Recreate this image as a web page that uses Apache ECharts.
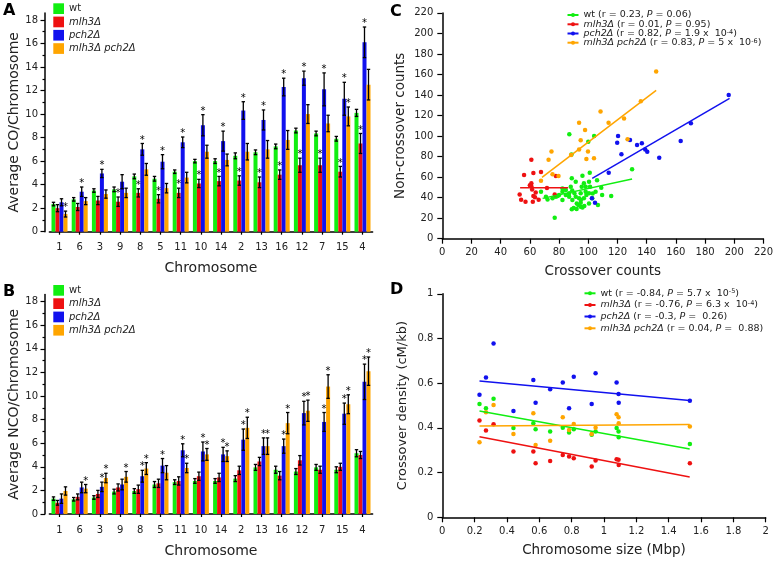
<!DOCTYPE html>
<html><head><meta charset="utf-8">
<script src="https://cdn.jsdelivr.net/npm/echarts@6/dist/echarts.min.js"></script>
<style>html,body{margin:0;padding:0;background:#fff}#c{width:776px;height:561px}</style>
</head><body><div id="c"></div><script>
// ---------- data ----------
const chromosomes = ['1','6','3','9','8','5','11','10','14','2','13','16','12','7','15','4'];
const chrSizeMbp = [0.230,0.270,0.317,0.440,0.563,0.577,0.667,0.745,0.784,0.813,0.924,0.948,1.078,1.090,1.091,1.531];
const strainNames = ['wt','mlh3Δ','pch2Δ','mlh3Δ pch2Δ'];
const strainColors = ['#11ee11','#ee1111','#1111ee','#ffa500'];
const barTicksMajor = [0,2,4,6,8,10,12,14,16,18];
const barTicksMinor = [1,3,5,7,9,11,13,15,17];

// Panel A: average CO per chromosome
const coWt    = [2.35,2.75,3.5,3.6,4.7,4.5,5.1,6.0,6.0,6.45,6.75,7.25,8.6,8.35,7.9,10.1];
const coMlh3  = [2.0,2.1,2.65,2.55,3.3,2.8,3.3,4.1,4.3,4.35,4.2,4.85,5.65,5.65,5.1,7.5];
const coPch2  = [2.5,3.4,4.95,4.25,7.0,5.95,7.6,9.05,7.7,10.3,9.5,12.3,13.05,12.1,11.3,16.1];
const coDbl   = [1.5,2.6,3.2,3.3,5.3,3.7,4.6,6.8,6.1,6.8,7.0,7.8,10.0,9.2,9.8,12.5];
const coWtErr   = [0.15,0.15,0.15,0.2,0.2,0.2,0.15,0.15,0.2,0.25,0.2,0.2,0.2,0.2,0.2,0.3];
const coMlh3Err = [0.3,0.3,0.35,0.4,0.35,0.35,0.4,0.35,0.4,0.4,0.45,0.4,0.6,0.6,0.45,0.85];
const coPch2Err = [0.3,0.4,0.35,0.6,0.5,0.6,0.45,0.9,0.85,0.75,0.85,0.75,0.6,1.4,1.4,1.3];
const coDblErr  = [0.25,0.3,0.35,0.4,0.5,0.4,0.45,0.55,0.5,0.7,0.75,0.8,0.8,0.7,0.8,1.3];
const coWtSig   = [0,0,0,0,0,0,0,0,0,0,0,0,0,0,0,0];
const coMlh3Sig = [0,0,0,1,1,1,1,1,1,1,1,1,1,1,1,1];
const coPch2Sig = [0,1,1,0,1,1,1,1,1,1,1,1,1,1,1,1];
const coDblSig  = [1,0,0,0,0,0,0,0,0,0,0,0,0,0,1,0];

// Panel B: average NCO per chromosome
const ncoWt   = [1.3,1.25,1.4,1.9,1.95,2.5,2.7,2.8,2.8,3.0,3.95,3.75,3.6,3.95,3.75,5.15];
const ncoMlh3 = [0.95,1.45,1.7,2.25,2.1,2.6,2.8,3.2,3.1,3.7,4.45,3.25,4.55,3.75,4.0,5.0];
const ncoPch2 = [1.3,2.25,2.3,2.5,3.2,4.1,5.4,5.3,5.05,6.3,5.75,5.75,8.55,7.8,8.5,11.2];
const ncoDbl  = [1.95,2.15,3.05,3.15,3.85,3.5,3.9,5.05,4.9,7.3,5.75,7.7,8.75,10.8,9.3,12.1];
const ncoWtErr   = [0.15,0.15,0.15,0.2,0.2,0.25,0.2,0.2,0.2,0.25,0.25,0.3,0.25,0.25,0.25,0.3];
const ncoMlh3Err = [0.2,0.25,0.3,0.3,0.35,0.35,0.35,0.35,0.35,0.35,0.35,0.35,0.4,0.3,0.3,0.3];
const ncoPch2Err = [0.4,0.45,0.4,0.45,0.5,0.6,0.55,0.8,0.6,0.9,0.7,0.6,1.0,0.8,0.9,1.5];
const ncoDblErr  = [0.35,0.35,0.4,0.45,0.5,0.6,0.4,0.5,0.45,0.9,0.7,0.9,0.9,1.0,0.8,1.2];
const ncoWtSig   = [0,0,0,0,0,0,0,0,0,0,0,0,0,0,0,0];
const ncoMlh3Sig = [0,0,0,0,0,0,0,0,0,0,0,0,0,0,0,0];
const ncoPch2Sig = [0,0,1,0,1,1,1,1,1,1,1,1,1,1,1,1];
const ncoDblSig  = [0,1,1,1,1,0,1,1,1,1,1,1,1,1,1,1];

// Panel C: crossover vs non-crossover counts per meiosis [CO, NCO]
const cWt = [[87,101.7],[104,100],[100,94.5],[88.5,82],[130,67.6],[101,64.3],[88.7,58.8],[96,61.4],[106,57],[77,20.5],
  [67.6,45.8],[88.7,28.6],[93.2,32.8],[94.8,31.2],[96,30.5],[97.3,31.8],[92.1,34.4],[106.6,32.8],[115.7,41.6],[108.9,49.7],
  [105,45.8],[100.5,44.2],[102.7,39.3],[100.5,55.5],[97,54],[98.2,50.7],[95.5,50.7],[91.4,55.5],[86.9,44.2],[84.6,47.4],
  [82.3,45.8],[80,42.5],[77.8,40.9],[75.5,39.3],[72.1,38.3],[71,40.9],[82.3,37.7],[86.9,40.9],[89.1,37.7],[91.4,40.9],
  [94.8,44.2],[98.2,45.8],[101.2,50.7],[88,50.7],[84.6,42.5],[90.5,44.2],[93.7,39.3],[97,39.3],[98.7,42.5],[109.5,42.5],
  [100.5,34.4],[82.3,49],[79,41.6],[94.8,35.1],[90,30],[92,29],[95,38],[103,44],[89,47]];
const cMlh3 = [[53,43],[54,38],[56,62],[57,36],[61,54],[61,51],[61,77],[61.5,48],[62,36],[62.4,64],[62.4,41.6],
  [63.5,40.3],[64,45],[66,38],[67.6,65],[71.7,49.4],[77.8,61],[77,43],[60,52]];
const cPch2 = [[196.2,140],[170.3,112.4],[163.3,95.2],[148.6,78.9],[140.4,84.8],[139,87],[136.7,92.9],[133.4,91.3],
  [128.6,96.1],[122.7,82.2],[120.4,100],[119.8,93.5],[114,64.3],[102.5,39.3],[104.6,35.1]];
const cDbl = [[146.5,163],[136,134],[108.4,124],[113.9,113],[124.5,117],[93.7,113],[97.8,106],[94.8,96],[74.8,85],
  [72.8,77],[88.2,81.5],[99.8,85],[98.7,77.6],[103.9,78.3],[67.6,56.5],[75.5,62.7],[79.6,61],[126.9,96.8],[93.7,87]];
const cFitWt   = [[68.7,39.3],[130,58.1]];
const cFitMlh3 = [[53.3,49.7],[86.2,49.7]];
const cFitPch2 = [[102.7,58.8],[196.8,136.7]];
const cFitDbl  = [[68.3,59.8],[146.5,144.5]];
const cLegendText = ['wt (r = 0.23, {i|P} = 0.06)', '{i|mlh3Δ} (r = 0.01, {i|P} = 0.95)',
  '{i|pch2Δ} (r = 0.82, {i|P} = 1.9 x  10{s|-4})', '{i|mlh3Δ pch2Δ} (r = 0.83, {i|P} = 5 x  10{s|-6})'];

// Panel D: crossover density vs chromosome size
const dWt   = [0.507,0.488,0.53,0.399,0.421,0.394,0.384,0.401,0.379,0.394,0.369,0.384,0.399,0.384,0.358,0.328];
const dMlh3 = [0.433,0.388,0.416,0.294,0.294,0.242,0.252,0.279,0.272,0.264,0.227,0.254,0.26,0.257,0.234,0.242];
const dPch2 = [0.548,0.626,0.778,0.476,0.614,0.513,0.573,0.603,0.488,0.629,0.507,0.644,0.603,0.552,0.513,0.522];
const dDbl  = [0.336,0.47,0.503,0.373,0.466,0.324,0.343,0.448,0.391,0.418,0.373,0.401,0.461,0.448,0.421,0.406];
const dFitWt   = [[0.23,0.476],[1.53,0.306]];
const dFitMlh3 = [[0.23,0.36],[1.53,0.18]];
const dFitPch2 = [[0.23,0.61],[1.53,0.523]];
const dFitDbl  = [[0.23,0.408],[1.53,0.415]];
const dLegendText = ['wt (r = -0.84, {i|P} = 5.7 x  10{s|-5})', '{i|mlh3Δ} (r = -0.76, {i|P} = 6.3 x  10{s|-4})',
  '{i|pch2Δ} (r = -0.3, {i|P} =  0.26)', '{i|mlh3Δ pch2Δ} (r = 0.04, {i|P} =  0.88)'];

// ---------- chart ----------
const FONT = 'DejaVu Sans';
const TXT = '#222';
const BAR_W = 4;
const chart = echarts.init(document.getElementById('c'), null, {renderer:'canvas'});

const axisLineStyle = {color:'#000', width:1.5};
const tickLineStyle = {color:'#000', width:1.2};

function barYAxes(g, name) {
  return [{
    gridIndex:g, type:'value', min:0, max:18.6, offset:4.4, position:'left',
    axisLine:{show:true, lineStyle:axisLineStyle},
    axisTick:{show:true, length:4.5, lineStyle:tickLineStyle, customValues:barTicksMajor},
    axisLabel:{fontSize:10, color:TXT, margin:7, customValues:barTicksMajor},
    splitLine:{show:false},
    name:name, nameLocation:'middle', nameGap:24, nameTextStyle:{fontSize:14, color:TXT}
  },{
    gridIndex:g, type:'value', min:0, max:18.6, offset:4.4, position:'left',
    axisLine:{show:false}, axisLabel:{show:false}, splitLine:{show:false},
    axisTick:{show:true, length:2.5, lineStyle:tickLineStyle, customValues:barTicksMinor}
  }];
}
function barXAxis(g) {
  return {gridIndex:g, type:'category', data:chromosomes, offset:3,
    axisLine:{show:true, lineStyle:axisLineStyle},
    axisTick:{show:true, alignWithLabel:true, length:3, lineStyle:tickLineStyle},
    axisLabel:{fontSize:10, color:TXT, margin:8},
    name:'Chromosome', nameLocation:'middle', nameGap:27, nameTextStyle:{fontSize:14, color:TXT}};
}
function errSeries(xi, yi, k, vals, errs, sigs) {
  const off = (k - 1.5) * BAR_W;
  return {
    type:'custom', xAxisIndex:xi, yAxisIndex:yi, z:5, silent:true,
    encode:{x:0, y:1},
    data: vals.map((v,i)=>[i, v, errs[i], sigs[i]]),
    renderItem(params, api) {
      const i = api.value(0), v = api.value(1), e = api.value(2), s = api.value(3);
      const x = api.coord([i, v])[0] + off;
      const yt = api.coord([i, v + e])[1], yb = api.coord([i, v - e])[1];
      const st = {stroke:'#000', lineWidth:1.3};
      const ch = [
        {type:'line', shape:{x1:x, y1:yt, x2:x, y2:yb}, style:st},
        {type:'line', shape:{x1:x-1.7, y1:yt, x2:x+1.7, y2:yt}, style:st},
        {type:'line', shape:{x1:x-1.7, y1:yb, x2:x+1.7, y2:yb}, style:st}
      ];
      if (s) ch.push({type:'text', style:{text:'*', x:x, y:yt + 1.5, align:'center', verticalAlign:'bottom',
        fontSize:10, fontFamily:FONT, fill:'#000'}});
      return {type:'group', children:ch};
    }
  };
}
function barSeries(xi, yi, k, vals) {
  return {type:'bar', name:strainNames[k], xAxisIndex:xi, yAxisIndex:yi, data:vals,
    barWidth:BAR_W, barGap:'0%', itemStyle:{color:strainColors[k]}, silent:true};
}
function valAxisCommon() {
  return {axisLine:{show:true, lineStyle:axisLineStyle},
    axisTick:{show:true, length:5, lineStyle:tickLineStyle},
    axisLabel:{fontSize:10, color:TXT, margin:9},
    splitLine:{show:false}};
}

const coSets = [[coWt,coWtErr,coWtSig],[coMlh3,coMlh3Err,coMlh3Sig],[coPch2,coPch2Err,coPch2Sig],[coDbl,coDblErr,coDblSig]];
const ncoSets = [[ncoWt,ncoWtErr,ncoWtSig],[ncoMlh3,ncoMlh3Err,ncoMlh3Sig],[ncoPch2,ncoPch2Err,ncoPch2Sig],[ncoDbl,ncoDblErr,ncoDblSig]];
const cScatter = [cWt, cMlh3, cPch2, cDbl];
const cFits = [cFitWt, cFitMlh3, cFitPch2, cFitDbl];
const dScatter = [dWt, dMlh3, dPch2, dDbl];
const dFits = [dFitWt, dFitMlh3, dFitPch2, dFitDbl];

const series = [];
coSets.forEach((s,k)=>series.push(barSeries(0,0,k,s[0])));
ncoSets.forEach((s,k)=>series.push(barSeries(1,2,k,s[0])));
coSets.forEach((s,k)=>series.push(errSeries(0,0,k,s[0],s[1],s[2])));
ncoSets.forEach((s,k)=>series.push(errSeries(1,2,k,s[0],s[1],s[2])));
cScatter.forEach((d,k)=>series.push({type:'scatter', name:'Cpts'+k, xAxisIndex:2, yAxisIndex:4, data:d,
  symbolSize:4.5, itemStyle:{color:strainColors[k], opacity:1}, silent:true}));
cFits.forEach((d,k)=>series.push({type:'line', name:'C'+k, xAxisIndex:2, yAxisIndex:4, data:d,
  symbol:'circle', showSymbol:false, lineStyle:{color:strainColors[k], width:1.5}, itemStyle:{color:strainColors[k]}, silent:true, z:3}));
dScatter.forEach((d,k)=>series.push({type:'scatter', name:'Dpts'+k, xAxisIndex:3, yAxisIndex:5,
  data:chrSizeMbp.map((x,i)=>[x, d[i]]), symbolSize:4.5, itemStyle:{color:strainColors[k], opacity:1}, silent:true}));
dFits.forEach((d,k)=>series.push({type:'line', name:'D'+k, xAxisIndex:3, yAxisIndex:5, data:d,
  symbol:'circle', showSymbol:false, lineStyle:{color:strainColors[k], width:1.5}, itemStyle:{color:strainColors[k]}, silent:true, z:3}));

const richLegend = {
  i:{fontStyle:'italic', fontSize:9.5, fontFamily:FONT, color:TXT},
  s:{fontSize:6.5, fontFamily:FONT, color:TXT, verticalAlign:'top', lineHeight:6}
};
function barLegend(top) {
  return {orient:'vertical', left:53.3, top:top, padding:0, itemGap:2.6, itemWidth:10.7, itemHeight:10.7,
    icon:'rect', selectedMode:false, data:strainNames,
    textStyle:{fontSize:10, color:TXT, fontFamily:FONT, lineHeight:10,
      rich:{i:{fontStyle:'italic', fontSize:10, fontFamily:FONT, color:TXT}}},
    formatter:(n)=> n === 'wt' ? 'wt' : '{i|' + n + '}'};
}
function lineLegend(prefix, left, tops, texts) {
  return tops.map((t,k)=>({orient:'vertical', left:left, top:t, padding:0, itemWidth:11, itemHeight:5,
    selectedMode:false, data:[prefix + k],
    textStyle:{fontSize:9.5, color:TXT, fontFamily:FONT, lineHeight:10, rich:richLegend},
    formatter:()=>texts[k]}));
}

const option = {
  animation:false,
  backgroundColor:'#fff',
  textStyle:{fontFamily:FONT},
  title:[
    {text:'A', left:3, top:3, padding:0, textStyle:{fontSize:16, fontWeight:'bold', color:'#000'}},
    {text:'B', left:3, top:284, padding:0, textStyle:{fontSize:16, fontWeight:'bold', color:'#000'}},
    {text:'C', left:390, top:4, padding:0, textStyle:{fontSize:16, fontWeight:'bold', color:'#000'}},
    {text:'D', left:390, top:282, padding:0, textStyle:{fontSize:16, fontWeight:'bold', color:'#000'}}
  ],
  legend:[barLegend(3.3), barLegend(285)]
    .concat(lineLegend('C', 566.5, [10, 19.3, 28.5, 37.7], cLegendText))
    .concat(lineLegend('D', 583.5, [288.3, 300, 311.5, 323.3], dLegendText)),
  grid:[
    {left:49.4, top:12.9, width:323.2, height:218.8},
    {left:49.4, top:294.5, width:323.2, height:219.5},
    {left:442.3, top:12.9, width:323.4, height:225.8},
    {left:442.3, top:293.8, width:323.4, height:223.5}
  ],
  xAxis:[
    barXAxis(0), barXAxis(1),
    Object.assign(valAxisCommon(), {gridIndex:2, type:'value', min:0, max:220, interval:20,
      name:'Crossover counts', nameLocation:'middle', nameGap:26, nameTextStyle:{fontSize:13.5, color:TXT}}),
    Object.assign(valAxisCommon(), {gridIndex:3, type:'value', min:0, max:2, interval:0.2,
      name:'Chromosome size (Mbp)', nameLocation:'middle', nameGap:26, nameTextStyle:{fontSize:13.5, color:TXT}})
  ],
  yAxis:[].concat(barYAxes(0,'Average CO/Chromosome'), barYAxes(1,'Average NCO/Chromosome'), [
    Object.assign(valAxisCommon(), {gridIndex:2, type:'value', min:0, max:220, interval:20,
      name:'Non-crossover counts', nameLocation:'middle', nameGap:35, nameTextStyle:{fontSize:13.5, color:TXT}}),
    Object.assign(valAxisCommon(), {gridIndex:3, type:'value', min:0, max:1, interval:0.2,
      name:'Crossover density (cM/kb)', nameLocation:'middle', nameGap:33, nameTextStyle:{fontSize:13, color:TXT}})
  ]),
  series:series
};
chart.setOption(option);
</script></body></html>
